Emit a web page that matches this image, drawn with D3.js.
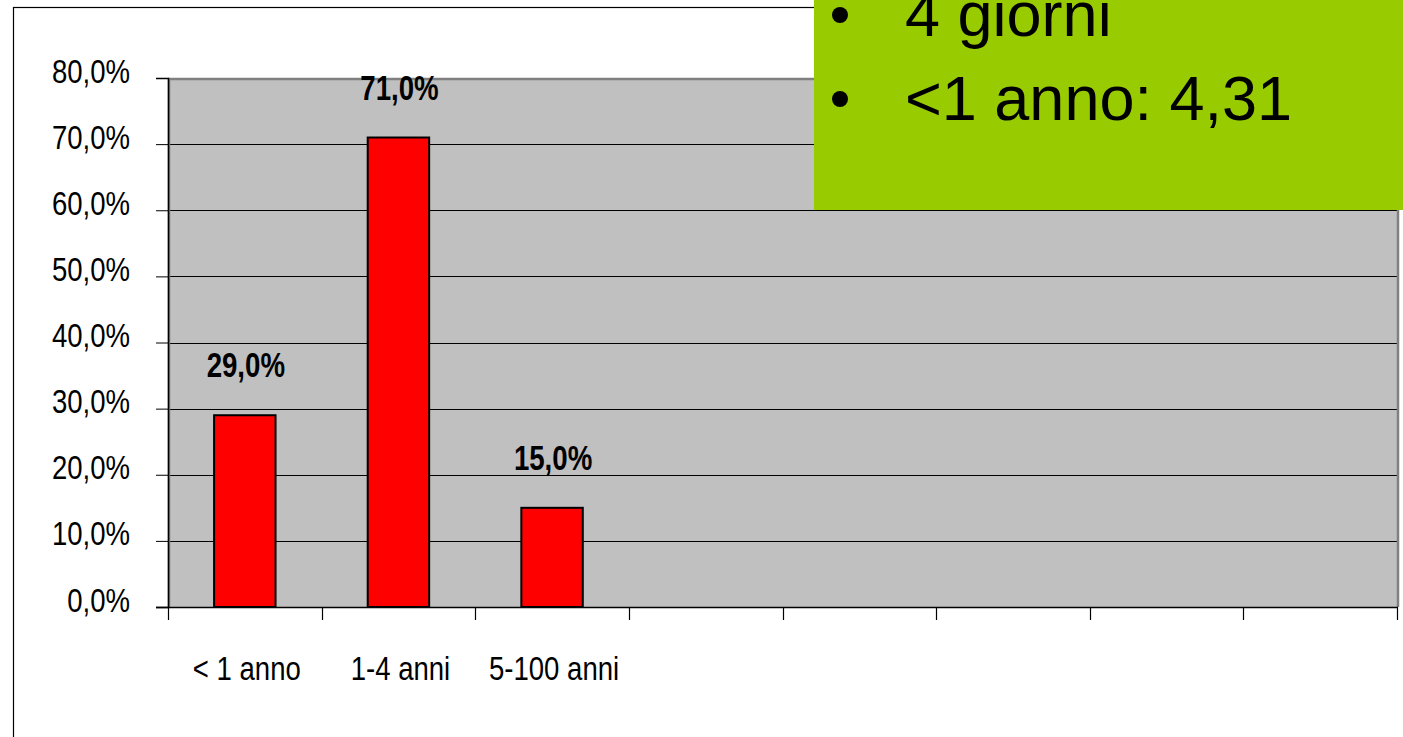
<!DOCTYPE html>
<html>
<head>
<meta charset="utf-8">
<script src="https://cdn.jsdelivr.net/npm/d3@7"></script>
<style>
  html, body { margin: 0; padding: 0; background: #fff; }
  svg { display: block; }
  text { font-family: "Liberation Sans", Arial, sans-serif; }
</style>
</head>
<body>
<script>
(function () {
  'use strict';

  var categories = ['< 1 anno', '1-4 anni', '5-100 anni', '', '', '', '', ''];
  var values = [0.29, 0.71, 0.15];
  var valueLabels = ['29,0%', '71,0%', '15,0%'];
  var yTicks = [0, 0.1, 0.2, 0.3, 0.4, 0.5, 0.6, 0.7, 0.8];
  var bulletLines = ['4 giorni', '<1 anno: 4,31'];

  var W = 1403, H = 737;
  var plot = { left: 168, right: 1397, top: 78, bottom: 607 };
  var narrow = 0.81;

  var svg = d3.select('body').append('svg')
    .attr('width', W)
    .attr('height', H);

  // chart outer frame
  svg.append('rect')
    .attr('x', 13.5).attr('y', 7.5)
    .attr('width', 1500).attr('height', 800)
    .attr('fill', '#fff')
    .attr('stroke', '#000')
    .attr('stroke-width', 1.2);

  var x = d3.scaleBand()
    .domain(d3.range(categories.length))
    .range([plot.left, plot.right])
    .paddingInner(0.6)
    .paddingOuter(0.3);

  var xSlot = d3.scaleLinear()
    .domain([0, categories.length])
    .range([plot.left, plot.right]);

  var y = d3.scaleLinear()
    .domain([0, 0.8])
    .range([plot.bottom, plot.top]);

  // plot background
  svg.append('rect')
    .attr('x', plot.left).attr('y', plot.top)
    .attr('width', plot.right - plot.left)
    .attr('height', plot.bottom - plot.top)
    .attr('fill', '#c0c0c0');

  // gridlines
  svg.append('g')
    .selectAll('line')
    .data(yTicks.slice(1, -1))
    .enter()
    .append('line')
    .attr('x1', plot.left).attr('x2', plot.right)
    .attr('y1', function (d) { return Math.round(y(d)) + 0.5; })
    .attr('y2', function (d) { return Math.round(y(d)) + 0.5; })
    .attr('stroke', '#000')
    .attr('stroke-width', 1);

  // plot border (gray)
  svg.append('path')
    .attr('d', 'M' + (plot.left + 1) + ',' + plot.bottom + 'V' + (plot.top + 1) + 'H' + (plot.right + 1) + 'V' + plot.bottom)
    .attr('fill', 'none')
    .attr('stroke', '#808080')
    .attr('stroke-width', 2.5);

  // bars
  svg.append('g')
    .selectAll('rect')
    .data(values)
    .enter()
    .append('rect')
    .attr('x', function (d, i) { return x(i); })
    .attr('y', function (d) { return y(d); })
    .attr('width', x.bandwidth())
    .attr('height', function (d) { return y(0) - y(d); })
    .attr('fill', '#ff0000')
    .attr('stroke', '#000')
    .attr('stroke-width', 2);

  // value labels
  svg.append('g')
    .selectAll('text')
    .data(values)
    .enter()
    .append('text')
    .attr('transform', function (d, i) {
      return 'translate(' + (x(i) + x.bandwidth() / 2 + 1) + ',' + (y(d) - 38) + ') scale(0.79,1)';
    })
    .attr('text-anchor', 'middle')
    .attr('font-size', 35)
    .attr('font-weight', 'bold')
    .text(function (d, i) { return valueLabels[i]; });

  // y axis
  var yAxis = d3.axisLeft(y)
    .tickValues(yTicks)
    .tickSize(12)
    .tickPadding(0)
    .tickFormat(function (d) { return (d * 100).toFixed(1).replace('.', ',') + '%'; });

  var yG = svg.append('g')
    .attr('transform', 'translate(' + plot.left + ',0)')
    .call(yAxis);
  yG.select('.domain').attr('stroke', '#000').attr('stroke-width', 1.5);
  yG.selectAll('.tick line').attr('stroke', '#000');
  yG.selectAll('.tick text')
    .attr('x', 0)
    .attr('dy', null)
    .attr('transform', 'translate(-38,4) scale(' + narrow + ',1)')
    .attr('font-size', 34)
    .attr('font-family', '"Liberation Sans", Arial, sans-serif')
    .attr('fill', '#000');

  // x axis line + ticks at slot boundaries
  var xG = svg.append('g');
  xG.append('line')
    .attr('x1', plot.left - 12).attr('x2', plot.right + 1)
    .attr('y1', plot.bottom + 0.5).attr('y2', plot.bottom + 0.5)
    .attr('stroke', '#000')
    .attr('stroke-width', 1.5);
  xG.selectAll('line.tk')
    .data(d3.range(categories.length + 1))
    .enter()
    .append('line')
    .attr('class', 'tk')
    .attr('x1', function (d) { return Math.round(xSlot(d)) + 0.5; })
    .attr('x2', function (d) { return Math.round(xSlot(d)) + 0.5; })
    .attr('y1', plot.bottom)
    .attr('y2', plot.bottom + 13)
    .attr('stroke', '#000')
    .attr('stroke-width', 1.2);

  xG.selectAll('text')
    .data(categories)
    .enter()
    .append('text')
    .attr('transform', function (d, i) {
      return 'translate(' + (x(i) + x.bandwidth() / 2 + 2) + ',680) scale(' + narrow + ',1)';
    })
    .attr('text-anchor', 'middle')
    .attr('font-size', 34)
    .text(function (d) { return d; });

  // green text box overlay
  var box = svg.append('g');
  box.append('rect')
    .attr('x', 814).attr('y', 0)
    .attr('width', W - 814).attr('height', 210)
    .attr('fill', '#99cc00');

  var lines = box.selectAll('g.line')
    .data(bulletLines)
    .enter()
    .append('g')
    .attr('class', 'line')
    .attr('transform', function (d, i) { return 'translate(0,' + (36 + i * 84) + ')'; });

  lines.append('circle')
    .attr('cx', 840)
    .attr('cy', -21)
    .attr('r', 8)
    .attr('fill', '#000');

  lines.append('text')
    .attr('x', 905)
    .attr('y', 0)
    .attr('font-size', 63)
    .attr('fill', '#000')
    .text(function (d) { return d; });
}());
</script>
</body>
</html>
